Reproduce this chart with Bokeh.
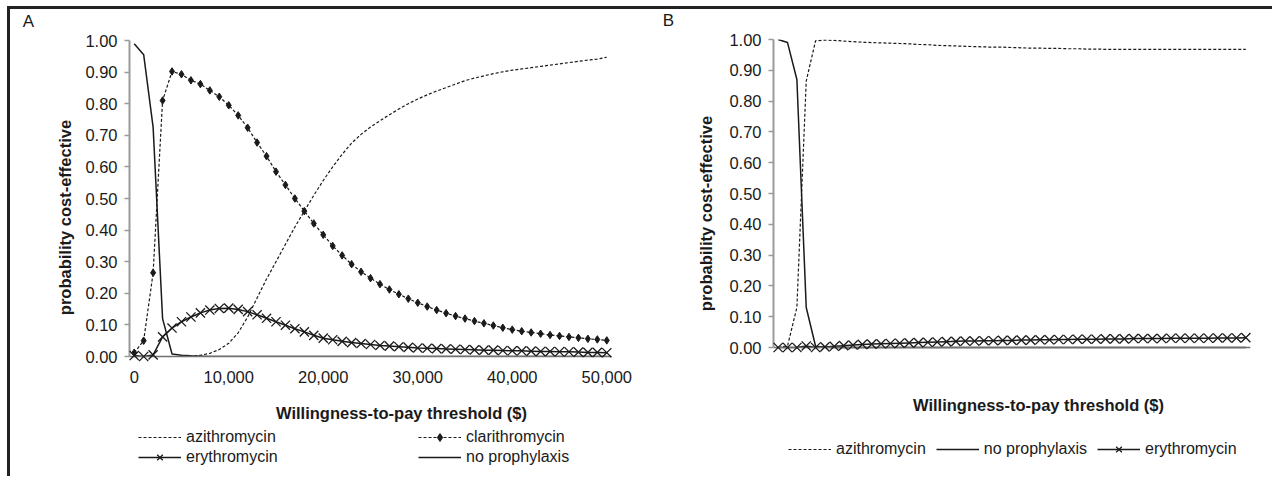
import math
from bokeh.plotting import figure
from bokeh.models import Range1d, FixedTicker, NumeralTickFormatter, Legend, LegendItem
from bokeh.layouts import row, column
from bokeh.embed import file_html
from bokeh.resources import INLINE
from bokeh.core.properties import value

# ---------------- data ----------------
wtp = [0, 1000, 2000, 3000, 4000, 5000, 6000, 7000, 8000, 9000,
       10000, 11000, 12000, 13000, 14000, 15000, 16000, 17000, 18000, 19000,
       20000, 21000, 22000, 23000, 24000, 25000, 26000, 27000, 28000, 29000,
       30000, 31000, 32000, 33000, 34000, 35000, 36000, 37000, 38000, 39000,
       40000, 41000, 42000, 43000, 44000, 45000, 46000, 47000, 48000, 49000, 50000]

a_azithromycin = [0.0, 0.0, 0.0, 0.0, 0.0, 0.0, 0.001, 0.004, 0.01, 0.022,
                  0.042, 0.075, 0.125, 0.185, 0.245, 0.30, 0.355, 0.41, 0.46, 0.51,
                  0.557, 0.60, 0.64, 0.675, 0.703, 0.726, 0.746, 0.765, 0.783, 0.80,
                  0.815, 0.828, 0.84, 0.851, 0.862, 0.873, 0.881, 0.888, 0.895, 0.901,
                  0.906, 0.910, 0.914, 0.918, 0.922, 0.926, 0.930, 0.934, 0.938, 0.941, 0.947]
a_clarithromycin = [0.012, 0.05, 0.265, 0.81, 0.902, 0.893, 0.874, 0.862, 0.842, 0.822,
                    0.795, 0.763, 0.724, 0.677, 0.634, 0.585, 0.543, 0.50, 0.46, 0.421,
                    0.385, 0.35, 0.32, 0.292, 0.268, 0.248, 0.229, 0.212, 0.197, 0.183,
                    0.17, 0.158, 0.147, 0.137, 0.128, 0.12, 0.112, 0.105, 0.098, 0.091,
                    0.085, 0.08, 0.076, 0.072, 0.068, 0.065, 0.062, 0.059, 0.056, 0.054, 0.051]
a_erythromycin = [0.003, 0.0, 0.005, 0.062, 0.09, 0.11, 0.125, 0.138, 0.147, 0.152,
                  0.153, 0.149, 0.142, 0.132, 0.121, 0.11, 0.099, 0.088, 0.078, 0.067,
                  0.058, 0.053, 0.048, 0.044, 0.041, 0.038, 0.035, 0.033, 0.031, 0.029,
                  0.027, 0.026, 0.025, 0.024, 0.023, 0.022, 0.021, 0.02, 0.02, 0.019,
                  0.018, 0.018, 0.017, 0.016, 0.016, 0.015, 0.015, 0.014, 0.013, 0.013, 0.012]
a_no_prophylaxis = [0.99, 0.955, 0.725, 0.12, 0.008, 0.004, 0.002, 0.001, 0.0, 0.0,
                    0.0, 0.0, 0.0, 0.0, 0.0, 0.0, 0.0, 0.0, 0.0, 0.0,
                    0.0, 0.0, 0.0, 0.0, 0.0, 0.0, 0.0, 0.0, 0.0, 0.0,
                    0.0, 0.0, 0.0, 0.0, 0.0, 0.0, 0.0, 0.0, 0.0, 0.0,
                    0.0, 0.0, 0.0, 0.0, 0.0, 0.0, 0.0, 0.0, 0.0, 0.0, 0.0]

b_azithromycin = [0.0, 0.005, 0.13, 0.865, 0.996, 0.998, 0.997, 0.995, 0.993, 0.991,
                  0.99, 0.989, 0.988, 0.987, 0.986, 0.984, 0.983, 0.981, 0.98, 0.979,
                  0.978, 0.977, 0.976, 0.975, 0.975, 0.974, 0.973, 0.972, 0.972, 0.971,
                  0.971, 0.97, 0.97, 0.969, 0.969, 0.968, 0.968, 0.968, 0.968, 0.968,
                  0.968, 0.968, 0.968, 0.968, 0.968, 0.968, 0.968, 0.968, 0.968, 0.968, 0.968]
b_no_prophylaxis = [1.0, 0.99, 0.87, 0.13, 0.004, 0.001, 0.0, 0.0, 0.0, 0.0,
                    0.0, 0.0, 0.0, 0.0, 0.0, 0.0, 0.0, 0.0, 0.0, 0.0,
                    0.0, 0.0, 0.0, 0.0, 0.0, 0.0, 0.0, 0.0, 0.0, 0.0,
                    0.0, 0.0, 0.0, 0.0, 0.0, 0.0, 0.0, 0.0, 0.0, 0.0,
                    0.0, 0.0, 0.0, 0.0, 0.0, 0.0, 0.0, 0.0, 0.0, 0.0, 0.0]
b_erythromycin = [0.0, 0.0, 0.0, 0.005, 0.0, 0.002, 0.004, 0.006, 0.008, 0.01,
                  0.011, 0.012, 0.013, 0.014, 0.015, 0.016, 0.017, 0.018, 0.019, 0.02,
                  0.021, 0.021, 0.022, 0.022, 0.023, 0.023, 0.024, 0.024, 0.025, 0.025,
                  0.026, 0.026, 0.027, 0.027, 0.027, 0.028, 0.028, 0.028, 0.029, 0.029,
                  0.029, 0.029, 0.03, 0.03, 0.03, 0.03, 0.03, 0.031, 0.031, 0.031, 0.032]

x_ticks = [0, 10000, 20000, 30000, 40000, 50000]
y_ticks = [0.0, 0.1, 0.2, 0.3, 0.4, 0.5, 0.6, 0.7, 0.8, 0.9, 1.0]
x_title = "Willingness-to-pay threshold ($)"
y_title = "probability cost-effective"

# ---------------- layout constants (page pixels) ----------------
FONT = "Liberation Sans"
INK = "#1a1a1a"
AXIS_GRAY = "#9a9a9a"
XR = (-500, 50500)
ORIGIN_X = 10      # 7px margin + 3px border
ORIGIN_Y = 9       # 6px margin + 3px border
FRAME_TOP, FRAME_BOTTOM = 39, 356
PLOT_H = 415       # plot figures end at y = 424
STRIP_H = 52       # legend strips from 424 to 476
STRIP_BOTTOM = 424 + STRIP_H


def px2data(px, py, frame, yr):
    L, T, R, B = frame
    x = XR[0] + (px - L) / (R - L) * (XR[1] - XR[0])
    y = yr[0] + (B - py) / (B - T) * (yr[1] - yr[0])
    return x, y


def make_panel(width, origin_x, frame, yr, xstand, fixed_zero=False):
    L, T, R, B = frame
    left = L - origin_x
    right = width - left - (R - L)
    top = T - ORIGIN_Y
    bottom = PLOT_H - top - (B - T)
    p = figure(width=width, height=PLOT_H, output_backend="svg", toolbar_location=None,
               x_range=Range1d(*XR), y_range=Range1d(*yr),
               min_border_left=left, min_border_right=right,
               min_border_top=top, min_border_bottom=bottom)
    p.grid.visible = False
    p.outline_line_color = None
    p.background_fill_color = "white"
    p.border_fill_color = "white"

    ya = p.yaxis[0]
    ya.bounds = (0, 1)
    ya.ticker = FixedTicker(ticks=y_ticks)
    ya.formatter = NumeralTickFormatter(format="0.00")
    ya.axis_line_color = AXIS_GRAY
    ya.axis_line_width = 2
    ya.major_tick_line_color = AXIS_GRAY
    ya.major_tick_line_width = 1.5
    ya.major_tick_out = 5
    ya.major_tick_in = 0
    ya.minor_tick_line_color = None
    ya.major_label_standoff = 7
    ya.major_label_text_font = FONT
    ya.major_label_text_font_size = "16.5px"
    ya.major_label_text_color = INK

    xa = p.xaxis[0]
    if fixed_zero:
        xa.fixed_location = 0
    xa.ticker = FixedTicker(ticks=x_ticks)
    xa.formatter = NumeralTickFormatter(format="0,0")
    xa.axis_line_color = "#707070"
    xa.axis_line_width = 1.5
    xa.major_tick_line_color = None
    xa.major_tick_out = 0
    xa.major_tick_in = 0
    xa.minor_tick_line_color = None
    xa.major_label_standoff = xstand
    xa.major_label_text_font = FONT
    xa.major_label_text_font_size = "16.5px"
    xa.major_label_text_color = INK
    return p


def make_strip(width, origin_x, frame):
    L, T, R, B = frame
    left = L - origin_x
    right = width - left - (R - L)
    # y range far above the probabilities: the proxy renderers stay hidden (clipped)
    s = figure(width=width, height=STRIP_H, output_backend="svg", toolbar_location=None,
               x_range=Range1d(*XR), y_range=Range1d(10, 11),
               x_axis_location=None, y_axis_location=None,
               min_border_left=left, min_border_right=right,
               min_border_top=0, min_border_bottom=0)
    s.grid.visible = False
    s.outline_line_color = None
    s.background_fill_color = "white"
    s.border_fill_color = "white"
    return s


def add_text(p, frame, yr, px, py, text, bold=False, angle=0.0, size="16.5px"):
    x, y = px2data(px, py, frame, yr)
    p.text(x=[x], y=[y], text=[text], angle=angle,
           text_font=value(FONT), text_font_size=size,
           text_font_style="bold" if bold else "normal",
           text_color=INK, text_align="center", text_baseline="middle",
           level="overlay")


def series(p, xs, ys, dash="solid", marker=None, level="overlay"):
    r = [p.line(xs, ys, line_color=INK, line_width=1.2 if dash != "solid" else 1.5,
                line_dash=dash)]
    if marker == "diamond":
        r.append(p.scatter(xs, ys, marker="diamond", size=7.5,
                           fill_color=INK, line_color=INK, level=level))
    elif marker == "x":
        r.append(p.scatter(xs, ys, marker="x", size=13, line_color=INK,
                           line_width=1.3, level=level))
    return r


def make_legend(strip, entries, ncols, spacing, label_width, loc):
    items = []
    for label, ys, dash, marker in entries:
        rs = series(strip, wtp, ys, dash=dash, marker=marker, level="glyph")
        items.append(LegendItem(label=label, renderers=rs))
    lg = Legend(items=items, orientation="horizontal", ncols=ncols, spacing=spacing)
    lg.label_text_font = FONT
    lg.label_text_font_size = "16px"
    lg.label_text_color = INK
    lg.glyph_width = 43
    lg.glyph_height = 20
    lg.label_height = 20
    lg.label_standoff = 5
    lg.label_width = label_width
    lg.padding = 0
    lg.margin = 0
    lg.border_line_color = None
    lg.background_fill_alpha = 0
    lg.location = loc
    strip.add_layout(lg, "center")


# ---------------- panel A ----------------
frameA = (129, FRAME_TOP, 611, FRAME_BOTTOM)
yrA = (0.0, 1.0 + 1.0 / 316)
WA = 638
pA = make_panel(WA, ORIGIN_X, frameA, yrA, 14)
series(pA, wtp, a_azithromycin, dash="3 2")
series(pA, wtp, a_clarithromycin, dash="3 2", marker="diamond")
series(pA, wtp, a_erythromycin, marker="x")
series(pA, wtp, a_no_prophylaxis)
add_text(pA, frameA, yrA, 401, 412, x_title, bold=True)
add_text(pA, frameA, yrA, 64, 217, y_title, bold=True, angle=math.pi / 2)
add_text(pA, frameA, yrA, 28, 21, "A", size="17px")

sA = make_strip(WA, ORIGIN_X, frameA)
make_legend(sA, [("azithromycin", a_azithromycin, "3 2", None),
                 ("clarithromycin", a_clarithromycin, "3 2", "diamond"),
                 ("erythromycin", a_erythromycin, "solid", "x"),
                 ("no prophylaxis", a_no_prophylaxis, "solid", None)],
            ncols=2, spacing=0, label_width=232,
            loc=(138 - frameA[0], STRIP_BOTTOM - 427 - 40))

# ---------------- panel B ----------------
frameB = (773, FRAME_TOP, 1250, FRAME_BOTTOM)
yrB = (-9.0 / 308, 1.0)
WB = 624
pB = make_panel(WB, ORIGIN_X + WA, frameB, yrB, 13, fixed_zero=True)
series(pB, wtp, b_azithromycin, dash="3 2")
series(pB, wtp, b_no_prophylaxis)
series(pB, wtp, b_erythromycin, marker="x")
add_text(pB, frameB, yrB, 1038, 404, x_title, bold=True)
add_text(pB, frameB, yrB, 705, 213, y_title, bold=True, angle=math.pi / 2)
add_text(pB, frameB, yrB, 668, 20, "B", size="17px")

sB = make_strip(WB, ORIGIN_X + WA, frameB)
make_legend(sB, [("azithromycin", b_azithromycin, "3 2", None),
                 ("no prophylaxis", b_no_prophylaxis, "solid", None),
                 ("erythromycin", b_erythromycin, "solid", "x")],
            ncols="auto", spacing=10, label_width=20,
            loc=(788 - frameB[0], STRIP_BOTTOM - 439 - 20))

layout = row(column(pA, sA), column(pB, sB),
             styles={"border-top": "3px solid #222", "border-left": "3px solid #222",
                     "margin-top": "6px", "margin-left": "7px"})

open("out.html", "w").write(file_html(layout, INLINE))
